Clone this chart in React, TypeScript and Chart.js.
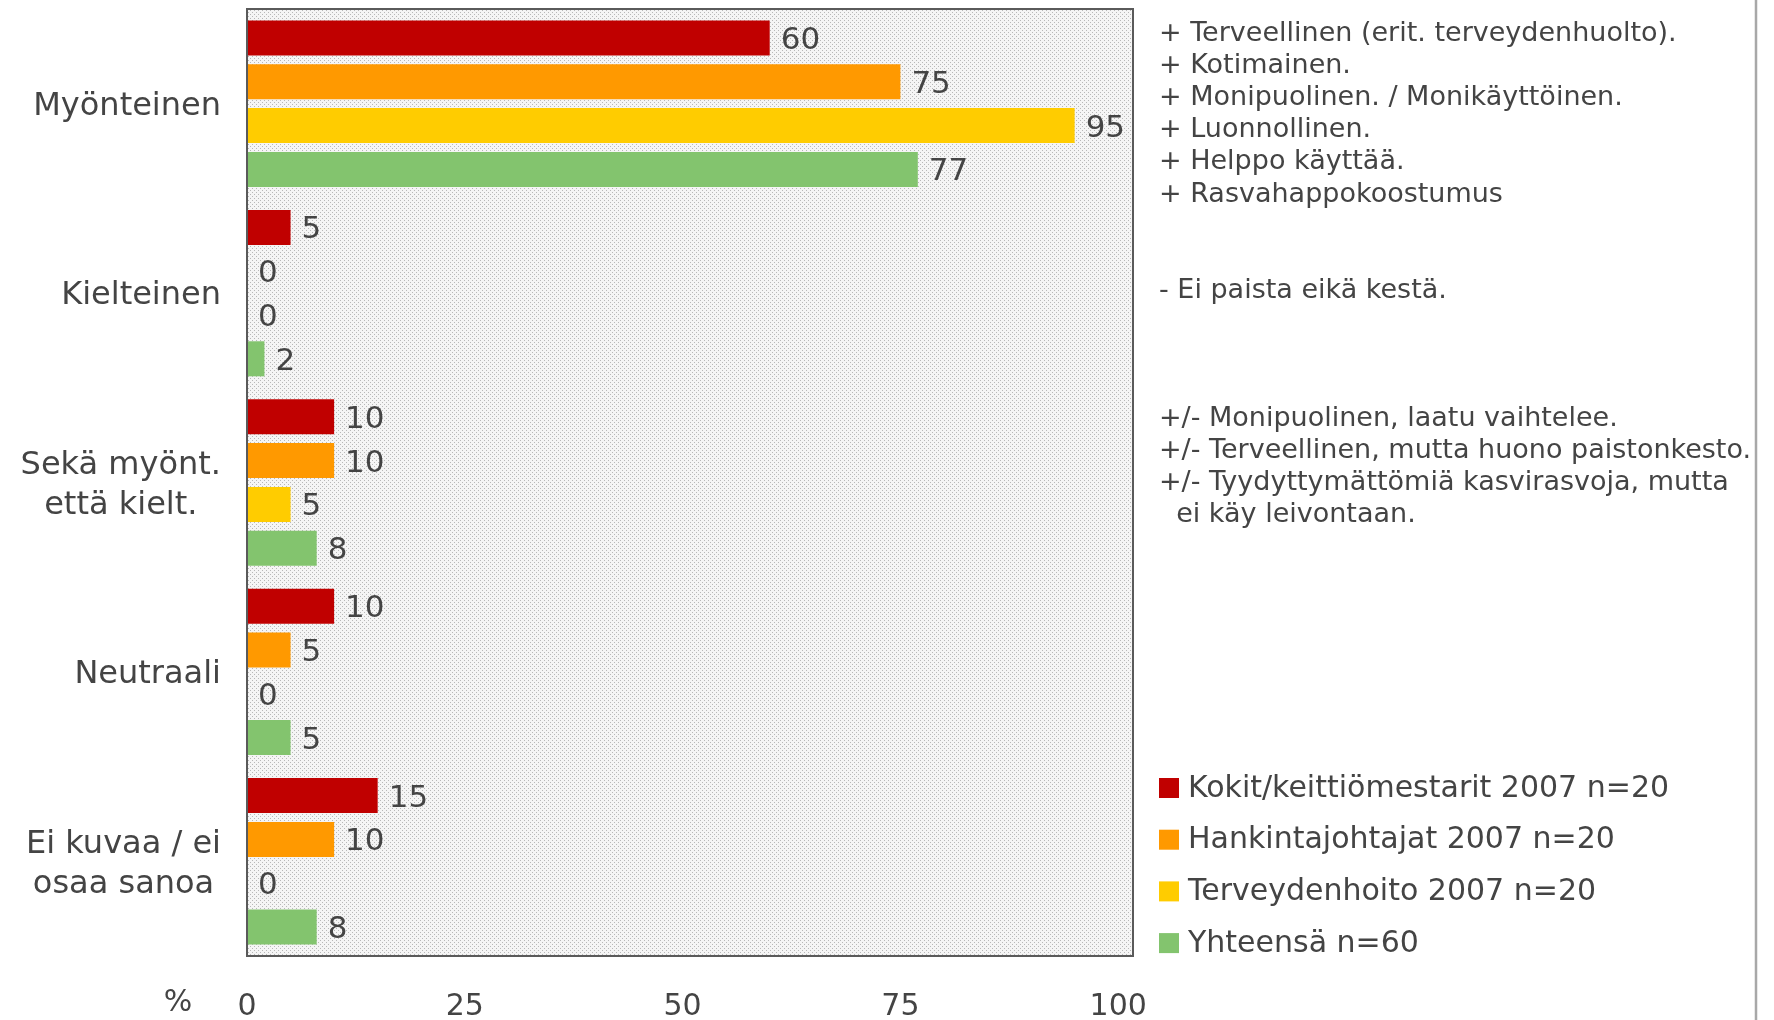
import React, { useEffect, useRef } from 'react';
import { Chart, registerables } from 'chart.js';

Chart.register(...registerables);

// ---- data ----
const categories: string[][] = [
  ['Myönteinen'],
  ['Kielteinen'],
  ['Sekä myönt.', 'että kielt.'],
  ['Neutraali'],
  ['Ei kuvaa / ei', 'osaa sanoa'],
];
const seriesNames = [
  'Kokit/keittiömestarit 2007 n=20',
  'Hankintajohtajat 2007 n=20',
  'Terveydenhoito 2007 n=20',
  'Yhteensä n=60',
];
const kokit = [60, 5, 10, 10, 15];
const hankinta = [75, 0, 10, 5, 10];
const terveys = [95, 0, 5, 0, 0];
const yhteensa = [77, 2, 8, 5, 8];
const xTicks = [0, 25, 50, 75, 100];
const xMax = 101.7;
const axisUnit = '%';
const seriesColors = ['#C00000', '#FF9900', '#FFCC00', '#83C46E'];
const notesPositive = [
  '+ Terveellinen (erit. terveydenhuolto).',
  '+ Kotimainen.',
  '+ Monipuolinen. / Monikäyttöinen.',
  '+ Luonnollinen.',
  '+ Helppo käyttää.',
  '+ Rasvahappokoostumus',
];
const notesNegative = ['- Ei paista eikä kestä.'];
const notesMixed = [
  '+/- Monipuolinen, laatu vaihtelee.',
  '+/- Terveellinen, mutta huono paistonkesto.',
  '+/- Tyydyttymättömiä kasvirasvoja, mutta',
  '  ei käy leivontaan.',
];

const FONT = '"DejaVu Sans", Verdana, sans-serif';
const TEXT = '#444444';

function makePattern(): CanvasPattern | string {
  const c = document.createElement('canvas');
  c.width = 4;
  c.height = 4;
  const g = c.getContext('2d');
  if (!g) return '#eaeaea';
  g.fillStyle = '#f5f5f5';
  g.fillRect(0, 0, 4, 4);
  g.fillStyle = '#b8b8b8';
  g.fillRect(0, 0, 1, 1);
  g.fillRect(2, 2, 1, 1);
  const p = g.createPattern(c, 'repeat');
  return p || '#eaeaea';
}

export default function App() {
  const ref = useRef<HTMLCanvasElement | null>(null);

  useEffect(() => {
    document.body.style.margin = '0';
    const canvas = ref.current;
    if (!canvas) return;
    const pattern = makePattern();

    const framePlugin = {
      id: 'frame',
      beforeDatasetsDraw(chart: any) {
        const { ctx, chartArea: a } = chart;
        ctx.save();
        ctx.fillStyle = pattern;
        ctx.fillRect(a.left, a.top, a.right - a.left, a.bottom - a.top);
        ctx.restore();
      },
      afterDatasetsDraw(chart: any) {
        const { ctx, chartArea: a } = chart;
        ctx.save();
        ctx.strokeStyle = '#5a5a5a';
        ctx.lineWidth = 2;
        ctx.strokeRect(a.left, a.top, a.right - a.left, a.bottom - a.top);
        ctx.restore();
      },
    };

    const labelsPlugin = {
      id: 'texts',
      afterDraw(chart: any) {
        const { ctx, chartArea: a } = chart;
        const yScale = chart.scales.y;
        const xScale = chart.scales.x;
        ctx.save();
        ctx.fillStyle = TEXT;
        // category labels
        ctx.font = `32px ${FONT}`;
        ctx.textBaseline = 'middle';
        const rightEdge = a.left - 26;
        categories.forEach((lines, i) => {
          const cy = yScale.getPixelForValue(i);
          const lh = 40;
          const widths = lines.map((l) => ctx.measureText(l).width);
          const maxW = Math.max(...widths);
          const cx = rightEdge - maxW / 2;
          ctx.textAlign = 'center';
          lines.forEach((l, k) => {
            const y = cy + (k - (lines.length - 1) / 2) * lh + 3;
            ctx.fillText(l, cx, y);
          });
        });
        // value labels
        ctx.font = `31px ${FONT}`;
        ctx.textAlign = 'left';
        chart.data.datasets.forEach((ds: any, di: number) => {
          const meta = chart.getDatasetMeta(di);
          meta.data.forEach((el: any, j: number) => {
            ctx.fillText(String(ds.data[j]), el.x + 11, el.y + 3);
          });
        });
        // axis unit
        ctx.font = `30px ${FONT}`;
        ctx.textAlign = 'center';
        ctx.fillText(axisUnit, xScale.left - 69, 1003);
        // notes
        ctx.font = `27px ${FONT}`;
        ctx.textAlign = 'left';
        const nx = a.right + 26;
        const nlh = 32.1;
        notesPositive.forEach((t, k) => ctx.fillText(t, nx, 34 + k * nlh));
        notesNegative.forEach((t, k) => ctx.fillText(t, nx, 291 + k * nlh));
        notesMixed.forEach((t, k) => ctx.fillText(t, nx, 419 + k * nlh));
        // legend
        ctx.font = `30px ${FONT}`;
        seriesNames.forEach((name, k) => {
          const y = 788 + k * 51.7;
          ctx.fillStyle = seriesColors[k];
          ctx.fillRect(nx, y - 10, 20, 20);
          ctx.fillStyle = TEXT;
          ctx.fillText(name, nx + 29, y + 1);
        });
        // outer frame edge
        ctx.strokeStyle = '#a8a8a8';
        ctx.lineWidth = 2.5;
        ctx.beginPath();
        ctx.moveTo(1756, 0);
        ctx.lineTo(1756, 1020);
        ctx.stroke();
        ctx.restore();
      },
    };

    const chart = new Chart(canvas, {
      type: 'bar',
      data: {
        labels: categories.map((c) => c.join(' ')),
        datasets: [kokit, hankinta, terveys, yhteensa].map((d, i) => ({
          label: seriesNames[i],
          data: d,
          backgroundColor: seriesColors[i],
          borderWidth: 0,
          categoryPercentage: 0.925,
          barPercentage: 0.8,
        })),
      },
      options: {
        indexAxis: 'y',
        animation: false,
        responsive: false,
        devicePixelRatio: 1,
        layout: { padding: { left: 247, right: 641, top: 9, bottom: -38 } },
        plugins: {
          legend: { display: false },
          tooltip: { enabled: false },
          title: { display: false },
        },
        scales: {
          y: { display: false },
          x: {
            min: 0,
            max: xMax,
            grid: { display: false, drawTicks: false },
            border: { display: false },
            afterBuildTicks: (scale: any) => {
              scale.ticks = xTicks.map((v) => ({ value: v }));
            },
            ticks: {
              padding: 36,
              color: TEXT,
              maxRotation: 0,
              autoSkip: false,
              font: { family: FONT, size: 30, lineHeight: 1 },
            },
          },
        },
      },
      plugins: [framePlugin, labelsPlugin],
    } as any);

    return () => chart.destroy();
  }, []);

  return (
    <div style={{ width: 1774, height: 1020 }}>
      <canvas ref={ref} width={1774} height={1020} style={{ display: 'block' }} />
    </div>
  );
}
